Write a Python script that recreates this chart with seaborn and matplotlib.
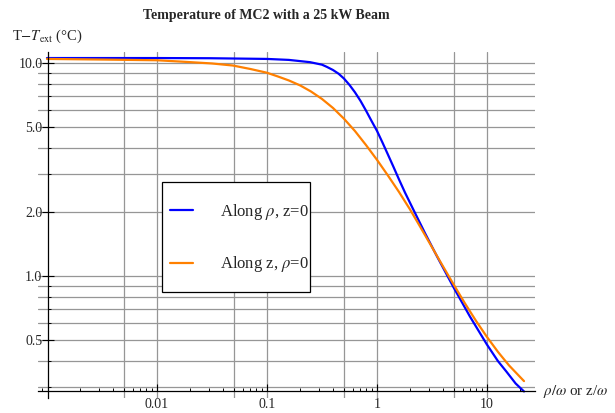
import matplotlib
matplotlib.use("Agg")
import matplotlib.pyplot as plt
import seaborn as sns
import pandas as pd
from matplotlib.patches import Rectangle
from matplotlib.ticker import FixedLocator, FixedFormatter, NullFormatter, LogLocator

# ---- data ----
blue_x = [0.001, 0.01, 0.03, 0.1, 0.158, 0.246, 0.316, 0.35, 0.398, 0.447, 0.5,
          0.562, 0.631, 0.708, 0.794, 0.891, 1.0, 1.122, 1.259, 1.413, 1.585, 1.8,
          2.14, 2.73, 3.5, 5.0, 7.0, 10.0, 12.6, 15.0, 18.2, 21.7]
blue_y = [10.55, 10.55, 10.53, 10.45, 10.34, 10.09, 9.82, 9.59, 9.27, 8.91, 8.46,
          7.89, 7.28, 6.64, 5.98, 5.35, 4.8, 4.23, 3.71, 3.25, 2.84, 2.46,
          2.05, 1.59, 1.24, 0.879, 0.645, 0.476, 0.398, 0.356, 0.313, 0.287]
orange_x = [0.001, 0.00316, 0.01, 0.0178, 0.0316, 0.049, 0.0708, 0.1, 0.126, 0.158,
            0.2, 0.251, 0.316, 0.398, 0.5, 0.631, 0.794, 1.0, 1.259, 1.585, 2.0,
            2.512, 3.162, 3.981, 5.012, 6.31, 7.94, 10.0, 12.59, 15.85, 21.7]
orange_y = [10.45, 10.38, 10.3, 10.13, 9.95, 9.73, 9.37, 9.0, 8.64, 8.28,
            7.85, 7.35, 6.78, 6.15, 5.48, 4.79, 4.12, 3.51, 2.96, 2.48, 2.05,
            1.677, 1.365, 1.11, 0.906, 0.743, 0.616, 0.517, 0.44, 0.3805, 0.321]
series_labels = [r"Along $\rho$, z=0", r"Along z, $\rho$=0"]
series_colors = ["#0000ff", "#ff8000"]

x_ticks = [0.01, 0.1, 1, 10]
x_tick_labels = ["0.01", "0.1", "1", "10"]
y_ticks = [0.5, 1, 2, 5, 10]
y_tick_labels = ["0.5", "1.0", "2.0", "5.0", "10.0"]
y_minor = [0.3, 0.4, 0.6, 0.7, 0.8, 0.9, 3, 4, 6, 7, 8, 9]
x_grid = [0.005, 0.01, 0.05, 0.1, 0.5, 1, 5, 10]
y_grid = [0.3, 0.4, 0.5, 0.6, 0.7, 0.8, 0.9, 1, 2, 3, 4, 5, 6, 7, 8, 9, 10]

title = "Temperature of MC2 with a 25 kW Beam"
ylabel = r"T$-$$T_{\mathrm{ext}}$ (°C)"
xlabel = r"$\rho/\omega$ or z/$\omega$"

# ---- style ----
sns.set_theme(style="white")
plt.rcParams['font.family'] = ['Liberation Serif', 'DejaVu Serif']
plt.rcParams['mathtext.fontset'] = 'stix'

W, H = 615, 413
fig = plt.figure(figsize=(W / 100, H / 100), dpi=100)
fig.patch.set_facecolor("white")


def fx(px):
    return px / W


def fy(py):
    return 1 - py / H


ax = fig.add_axes([fx(38), fy(398), (535 - 38) / W, (398 - 52) / H])
ax.set_facecolor("white")
ax.set_xscale("log")
ax.set_yscale("log")

df = pd.DataFrame({
    "x": blue_x + orange_x,
    "y": blue_y + orange_y,
    "series": [series_labels[0]] * len(blue_x) + [series_labels[1]] * len(orange_x),
})
sns.lineplot(data=df, x="x", y="y", hue="series", palette=series_colors,
             estimator=None, sort=False, ax=ax, lw=1.6, legend=False, zorder=2)
curve_lines = list(ax.lines)
for ln in curve_lines:
    ln.set_solid_joinstyle("round")

# reference scale: x=1 at 377px, 110 px/decade; y=1 at 276px, 213 px/decade
ax.set_xlim(10 ** ((38 - 377) / 110), 10 ** ((535 - 377) / 110))
ax.set_ylim(10 ** ((276 - 398) / 213), 10 ** ((276 - 52) / 213))

grid_col = "#969696"
for v in x_grid:
    ax.axvline(v, color=grid_col, lw=0.9, zorder=0.5)
for v in y_grid:
    ax.axhline(v, color=grid_col, lw=0.9, zorder=0.5)

for s in ["top", "right"]:
    ax.spines[s].set_visible(False)
ax.spines["left"].set_position(("data", 10 ** ((48 - 377) / 110)))
ax.spines["bottom"].set_position(("data", 10 ** ((276 - 391) / 213)))
for s in ["left", "bottom"]:
    ax.spines[s].set_color("black")
    ax.spines[s].set_linewidth(0.9)
    ax.spines[s].set_zorder(2.5)

ax.xaxis.set_major_locator(FixedLocator(x_ticks))
ax.xaxis.set_major_formatter(FixedFormatter(x_tick_labels))
ax.xaxis.set_minor_locator(LogLocator(base=10, subs=[2, 3, 4, 5, 6, 7, 8, 9]))
ax.xaxis.set_minor_formatter(NullFormatter())
ax.yaxis.set_major_locator(FixedLocator(y_ticks))
ax.yaxis.set_major_formatter(FixedFormatter(y_tick_labels))
ax.yaxis.set_minor_locator(FixedLocator(y_minor))
ax.yaxis.set_minor_formatter(NullFormatter())

ax.tick_params(axis="x", which="major", direction="in", length=5, width=0.8,
               color="black", labelsize=10, pad=5, bottom=True)
ax.tick_params(axis="x", which="minor", direction="in", length=2.5, width=0.7,
               color="black", bottom=True)
ax.tick_params(axis="y", which="major", direction="inout", length=8, width=0.8,
               color="black", labelsize=10, pad=0, left=True)
ax.tick_params(axis="y", which="minor", direction="in", length=2.5, width=0.7,
               color="black", left=True)
ax.set_xlabel("")
ax.set_ylabel("")

# legend box
ax.add_patch(Rectangle((fx(162), fy(292)), (310 - 162) / W, (292 - 182) / H,
                       transform=fig.transFigure, facecolor="white",
                       edgecolor="black", lw=0.9, zorder=3, clip_on=False))
leg = ax.legend(curve_lines, series_labels, loc="upper left",
                bbox_to_anchor=(fx(170), fy(202)), bbox_transform=fig.transFigure,
                frameon=False, borderpad=0, borderaxespad=0, fontsize=12,
                handlelength=1.4, handletextpad=1.6, labelspacing=1.95)
leg.set_zorder(4)

fig.text(fx(266), fy(16), title, ha="center", va="center",
         fontsize=10, fontweight="bold")
fig.text(fx(12), fy(36), ylabel, ha="left", va="center", fontsize=10.5)
fig.text(fx(543), fy(392), xlabel, ha="left", va="center", fontsize=10.8)

fig.savefig("out.png", dpi=100, facecolor="white")
